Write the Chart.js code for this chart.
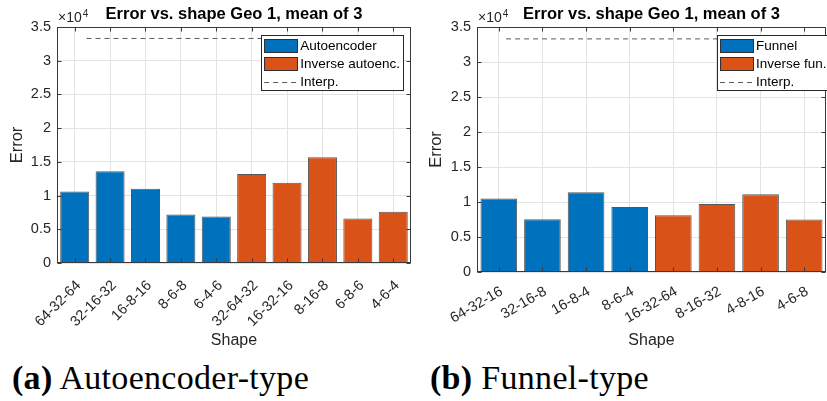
<!DOCTYPE html>
<html><head><meta charset="utf-8">
<script src="https://cdn.jsdelivr.net/npm/chart.js@4.4.1/dist/chart.umd.min.js"></script>
<style>
html,body{margin:0;padding:0;background:#fff;width:827px;height:401px;overflow:hidden;}
canvas{position:absolute;top:0;}
#c1{left:0;}
#c2{left:420px;}
.cap{position:absolute;top:361px;font-family:"Liberation Serif","Times New Roman",serif;font-size:34px;line-height:34px;letter-spacing:0.3px;color:#000;white-space:nowrap;}
.cap b{font-weight:bold;}
</style>
</head><body>
<canvas id="c1" width="420" height="350"></canvas>
<canvas id="c2" width="407" height="350"></canvas>
<div class="cap" style="left:12px;"><b>(a)</b> Autoencoder-type</div>
<div class="cap" style="left:430px;"><b>(b)</b> Funnel-type</div>
<script>
// ---------- data ----------
const chartTitle = 'Error vs. shape Geo 1, mean of 3';
const yTicks = [0, 5000, 10000, 15000, 20000, 25000, 30000, 35000];
const yTickLabels = ['0', '0.5', '1', '1.5', '2', '2.5', '3', '3.5'];
const interpError = 33300;

const autoCats = ['64-32-64', '32-16-32', '16-8-16', '8-6-8', '6-4-6', '32-64-32', '16-32-16', '8-16-8', '6-8-6', '4-6-4'];
const autoencoderVals = [10600, 13600, 11000, 7200, 6900];
const inverseAutoVals = [13200, 11900, 15700, 6600, 7600];

const funnelCats = ['64-32-16', '32-16-8', '16-8-4', '8-6-4', '16-32-64', '8-16-32', '4-8-16', '4-6-8'];
const funnelVals = [10500, 7550, 11400, 9300];
const inverseFunnelVals = [8100, 9700, 11100, 7500];

// ---------- styles ----------
const BLUE = '#0072BD', ORANGE = '#D95319';
const TXT = '#262626';
const SANS = '"Liberation Sans", Arial, sans-serif';

const framePlugin = {
  id: 'frame',
  afterDatasetsDraw(chart) {
    const {ctx, chartArea: a, scales: {x, y}} = chart;
    const L = Math.round(a.left) + 0.5, R = Math.round(a.right) - 0.5;
    const T = Math.round(a.top) + 0.5, B = Math.round(a.bottom) - 0.5;
    ctx.save();
    ctx.strokeStyle = '#3a3a3a';
    ctx.lineWidth = 1;
    ctx.beginPath();
    y.ticks.forEach((t, i) => {
      const py = Math.round(y.getPixelForTick(i)) + 0.5;
      ctx.moveTo(L, py); ctx.lineTo(L + 4, py);
      ctx.moveTo(R, py); ctx.lineTo(R - 4, py);
    });
    x.ticks.forEach((t, i) => {
      const px = Math.round(x.getPixelForTick(i)) + 0.5;
      ctx.moveTo(px, B); ctx.lineTo(px, B - 4);
      ctx.moveTo(px, T); ctx.lineTo(px, T + 4);
    });
    ctx.stroke();
    ctx.strokeRect(L, T, R - L, B - T);
    // exponent label
    ctx.fillStyle = TXT;
    ctx.textBaseline = 'alphabetic';
    ctx.font = '14px ' + SANS;
    ctx.fillText('\u00d710', a.left + 1, a.top - 5);
    const w = ctx.measureText('\u00d710').width;
    ctx.font = '10px ' + SANS;
    ctx.fillText('4', a.left + 2 + w, a.top - 10);
    ctx.restore();
  }
};

const legendPlugin = {
  id: 'boxLegend',
  afterDraw(chart, args, o) {
    const {ctx, chartArea: a} = chart;
    const ds = chart.data.datasets;
    ctx.save();
    ctx.font = '13.5px ' + SANS;
    const rowH = 18;
    const textW = Math.max(...ds.map(d => ctx.measureText(d.label).width));
    const w = 39 + textW + 3, h = 55;
    const x0 = o.x != null ? a.left + o.x : a.right - o.inset - w;
    const y0 = a.top + o.top;
    ctx.fillStyle = '#fff';
    ctx.fillRect(x0, y0, w, h);
    ctx.strokeStyle = '#262626';
    ctx.lineWidth = 1;
    ctx.strokeRect(Math.round(x0) + 0.5, Math.round(y0) + 0.5, Math.round(w), Math.round(h));
    ds.forEach((d, i) => {
      const cy = y0 + 10.5 + rowH * i;
      if (d.type === 'line') {
        ctx.save();
        ctx.strokeStyle = d.borderColor;
        ctx.setLineDash(d.borderDash);
        ctx.beginPath();
        ctx.moveTo(x0 + 3, Math.round(cy) + 0.5);
        ctx.lineTo(x0 + 36, Math.round(cy) + 0.5);
        ctx.stroke();
        ctx.restore();
      } else {
        ctx.fillStyle = d.backgroundColor;
        ctx.fillRect(x0 + 3, cy - 6.5, 33, 13);
        ctx.strokeStyle = '#303030';
        ctx.strokeRect(Math.round(x0 + 3) + 0.5, Math.round(cy - 6.5) + 0.5, 33, 13);
      }
      ctx.fillStyle = '#000';
      ctx.textBaseline = 'middle';
      ctx.fillText(d.label, x0 + 39, cy + 1);
    });
    ctx.restore();
  }
};

function makeChart(id, cats, valsA, valsB, labA, labB, cfg) {
  const nA = valsA.length;
  const dataA = cats.map((c, i) => i < nA ? valsA[i] : null);
  const dataB = cats.map((c, i) => i >= nA ? valsB[i - nA] : null);
  return new Chart(document.getElementById(id), {
    type: 'bar',
    data: {
      labels: cats,
      datasets: [
        {label: labA, data: dataA, backgroundColor: BLUE, borderColor: 'rgba(30,30,30,0.75)', borderWidth: 1, grouped: false, barPercentage: cfg.barPct, categoryPercentage: 1},
        {label: labB, data: dataB, backgroundColor: ORANGE, borderColor: 'rgba(30,30,30,0.75)', borderWidth: 1, grouped: false, barPercentage: cfg.barPct, categoryPercentage: 1},
        {type: 'line', label: 'Interp.', xAxisID: 'x2', data: [{x: 0, y: interpError}, {x: 1, y: interpError}], borderColor: '#5a5a5a', borderWidth: 1, borderDash: [5, 4], pointRadius: 0, fill: false}
      ]
    },
    options: {
      responsive: false,
      animation: false,
      layout: {padding: {left: 0, right: cfg.padRight, top: 0, bottom: 0}},
      plugins: {
        legend: {display: false},
        tooltip: {enabled: false},
        title: {display: true, text: chartTitle, fullSize: false, color: '#000',
          font: {family: SANS, size: 16.5, weight: 'bold'}, padding: {top: 4.3, bottom: 2.9}},
        boxLegend: cfg.legend
      },
      scales: {
        x: {
          type: 'category', offset: true,
          grid: {color: '#e3e3e3', offset: false, drawTicks: false},
          border: {display: false},
          ticks: {color: TXT, font: {family: SANS, size: 14.5}, minRotation: cfg.rot, maxRotation: cfg.rot, autoSkip: false, padding: cfg.tickPad, labelOffset: cfg.labelOff},
          title: {display: true, text: 'Shape', color: TXT, font: {family: SANS, size: 16}, padding: {top: 0, bottom: 0}},
          afterFit(s) { s.height = cfg.xH; }
        },
        x2: {type: 'linear', min: 0, max: 1, display: false},
        y: {
          min: 0, max: 35000,
          afterBuildTicks(s) { s.ticks = yTicks.map(v => ({value: v})); },
          grid: {color: '#e3e3e3', drawTicks: false},
          border: {display: false},
          ticks: {color: TXT, font: {family: SANS, size: 14.5}, padding: 6,
            callback: (v) => { const k = yTicks.indexOf(v); return k >= 0 ? yTickLabels[k] : ''; }},
          title: {display: true, text: 'Error', color: TXT, font: {family: SANS, size: 16.5}, padding: {top: cfg.yTitlePad, bottom: 0}},
          afterFit(s) { s.width = 57; }
        }
      }
    },
    plugins: [framePlugin, legendPlugin]
  });
}

makeChart('c1', autoCats, autoencoderVals, inverseAutoVals, 'Autoencoder', 'Inverse autoenc.',
  {barPct: 0.82, padRight: 4, xH: 87, rot: 45, tickPad: 14, labelOff: 4, yTitlePad: 7.4, legend: {inset: 8, top: 8}});
makeChart('c2', funnelCats, funnelVals, inverseFunnelVals, 'Funnel', 'Inverse fun.',
  {barPct: 0.84, padRight: 1, xH: 78, rot: 30, tickPad: 11, labelOff: 3, yTitlePad: 6.4, legend: {x: 240, top: 8}});
</script>
</body></html>
